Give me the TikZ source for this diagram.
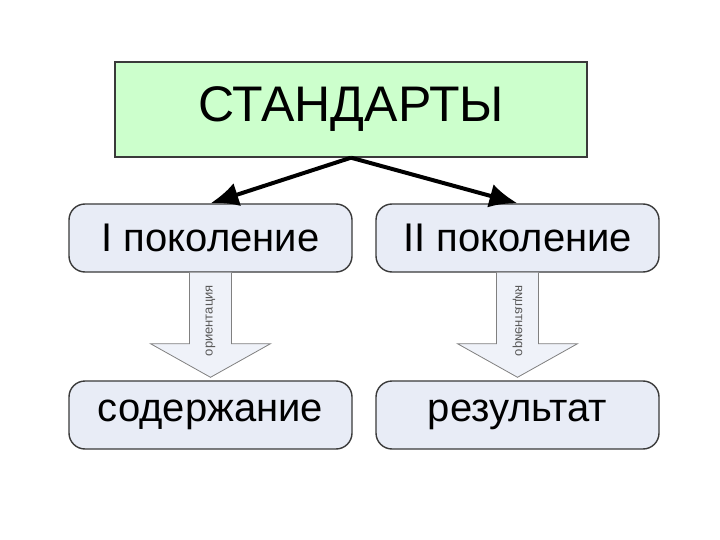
\documentclass[tikz,border=0pt]{standalone}
\usepackage{fontspec}
\setmainfont{Liberation Sans}
\usetikzlibrary{arrows.meta, calc}

\definecolor{topgreen}{HTML}{CCFFCC}
\definecolor{boxblue}{HTML}{E8ECF6}
\definecolor{edgegrey}{HTML}{3A3A3A}

\begin{document}
\begin{tikzpicture}[x=1pt, y=-1pt, >={Latex[length=28pt, width=24pt]},
  head/.style={draw=edgegrey, line width=1.4pt, fill=topgreen, minimum width=472pt,
    minimum height=95pt, font=\fontsize{50}{58}\selectfont},
  gen/.style={draw=edgegrey, line width=1.4pt, fill=boxblue, rounded corners=16pt,
    minimum width=283pt, minimum height=68pt, font=\fontsize{40}{48}\selectfont},
  fat/.style={draw=black!50, line width=0.8pt, fill=boxblue!70!white},
  tag/.style={font=\fontsize{13}{15}\selectfont, text=black!65, inner sep=0pt},
  link/.style={->, line width=4pt}]

\useasboundingbox[fill=white] (0,0) rectangle (720,540);

%% ===================== top =====================
\node[head] (std) at (351,109.5) {СТАНДАРТЫ};

%% ===================== generations =====================
\node[gen] (gen1) at (210.5,238) {I поколение};
\node[gen] (gen2) at (517.5,238) {II поколение};

\draw[link] (std.south) -- (gen1.north);
\draw[link] (std.south) -- (gen2.north);

%% ===================== results =====================
\node[gen] (cont) at (210.5,415) {содержание};
\node[gen] (res)  at (517.5,415) {результат};

%% block arrows, shaft 42 wide, head 120 wide
\draw[fat] ($(gen1.south)+(-21,0)$) -- ++(0,71) -- ++(-39,0) -- ($(cont.north)+(0,-3)$)
  -- ($(gen1.south)+(60,71)$) -- ++(-39,0) -- ($(gen1.south)+(21,0)$);
\draw[fat] ($(gen2.south)+(-21,0)$) -- ++(0,71) -- ++(-39,0) -- ($(res.north)+(0,-3)$)
  -- ($(gen2.south)+(60,71)$) -- ++(-39,0) -- ($(gen2.south)+(21,0)$);

\node[tag, rotate=90] (or1) at ($(gen1.south)+(0,48)$) {ориентация};
\node[tag, rotate=90, yscale=-1] (or2) at ($(gen2.south)+(0,48)$) {ориентация};

\end{tikzpicture}
\end{document}
